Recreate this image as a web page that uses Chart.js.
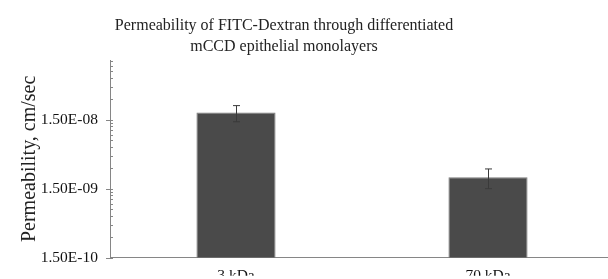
<!DOCTYPE html>
<html>
<head>
<meta charset="utf-8">
<script src="https://cdn.jsdelivr.net/npm/chart.js@4/dist/chart.umd.min.js"></script>
<style>
  html, body { margin: 0; padding: 0; background: #fff; overflow: hidden; }
  #wrap { position: relative; width: 614px; height: 279px; }
</style>
</head>
<body>
<div id="wrap"><canvas id="permChart" width="614" height="279"></canvas></div>
<script>
// datos
const categories = ['3 kDa', '70 kDa'];
const permeability = [1.9e-8, 2.2e-9];
const permeabilityErr = [0.5e-8, 0.7e-9];
const yTickValues = [1.5e-10, 1.5e-9, 1.5e-8];
const yTickLabels = ['1.50E-10', '1.50E-09', '1.50E-08'];
const titleLines = ['Permeability of FITC-Dextran through differentiated', 'mCCD epithelial monolayers'];

const SERIF = '"Liberation Serif", "Times New Roman", serif';
const AXIS_COLOR = '#868686';

// título en dos líneas
const titlePlugin = {
    id: 'titleLines',
    afterDraw(chart) {
        const ctx = chart.ctx;
        ctx.save();
        ctx.fillStyle = '#222';
        ctx.font = '16px ' + SERIF;
        ctx.textAlign = 'center';
        ctx.textBaseline = 'middle';
        titleLines.forEach(function (line, i) {
            ctx.fillText(line, 284, 26 + i * 21);
        });
        ctx.restore();
    }
};

// marcas mayores y menores del eje logarítmico
const logTicksPlugin = {
    id: 'logTicks',
    afterDraw(chart) {
        const y = chart.scales.y;
        const x0 = chart.chartArea.left;
        const ctx = chart.ctx;
        ctx.save();
        ctx.strokeStyle = AXIS_COLOR;
        ctx.lineWidth = 1;
        yTickValues.concat([yTickValues[yTickValues.length - 1] * 10]).forEach(function (base) {
            for (let k = 1; k <= 9; k++) {
                const v = base * k;
                if (v < y.min || v > y.max) continue;
                const py = Math.round(y.getPixelForValue(v)) + 0.5;
                ctx.beginPath();
                ctx.moveTo(k === 1 ? x0 - 4 : x0, py);
                ctx.lineTo(x0 + 3, py);
                ctx.stroke();
            }
        });
        ctx.restore();
    }
};

// barras de error
const errorBarsPlugin = {
    id: 'errorBars',
    afterDatasetsDraw(chart) {
        const meta = chart.getDatasetMeta(0);
        const y = chart.scales.y;
        const ctx = chart.ctx;
        ctx.save();
        ctx.strokeStyle = '#3a3a3a';
        ctx.lineWidth = 1;
        meta.data.forEach(function (bar, i) {
            const cx = Math.round(bar.x) + 0.5;
            const top = y.getPixelForValue(permeability[i] + permeabilityErr[i]);
            const bot = y.getPixelForValue(permeability[i] - permeabilityErr[i]);
            ctx.beginPath();
            ctx.moveTo(cx, top); ctx.lineTo(cx, bot);
            ctx.moveTo(cx - 3.5, top); ctx.lineTo(cx + 3.5, top);
            ctx.moveTo(cx - 3.5, bot); ctx.lineTo(cx + 3.5, bot);
            ctx.stroke();
        });
        ctx.restore();
    }
};

new Chart(document.getElementById('permChart'), {
    type: 'bar',
    data: {
        labels: categories,
        datasets: [{
            data: permeability,
            backgroundColor: '#4a4a4a',
            borderColor: '#7a7a7a',
            borderWidth: 1,
            barPercentage: 0.314,
            categoryPercentage: 1
        }]
    },
    options: {
        responsive: false,
        animation: false,
        layout: { padding: { top: 60, left: 0, right: 0, bottom: 0 } },
        plugins: {
            legend: { display: false },
            tooltip: { enabled: false }
        },
        scales: {
            x: {
                grid: { display: false, drawTicks: false },
                border: { color: AXIS_COLOR, width: 1 },
                ticks: { color: '#111', padding: 9, font: { family: SERIF, size: 15.5 } },
                afterFit(scale) { scale.height = 18; }
            },
            y: {
                type: 'logarithmic',
                min: 1.5e-10,
                max: 1.1e-7,
                grid: { display: false, drawTicks: false },
                border: { color: AXIS_COLOR, width: 1 },
                afterBuildTicks(scale) {
                    scale.ticks = yTickValues.map(function (v) { return { value: v }; });
                },
                ticks: {
                    color: '#111',
                    padding: 12,
                    font: { family: SERIF, size: 15.5 },
                    callback: function (value) {
                        const idx = yTickValues.indexOf(value);
                        return idx >= 0 ? yTickLabels[idx] : '';
                    }
                },
                title: {
                    display: true,
                    text: 'Permeability, cm/sec',
                    color: '#222',
                    padding: { top: 18, bottom: 0 },
                    font: { family: SERIF, size: 20 }
                },
                afterFit(scale) { scale.width = 110; }
            }
        }
    },
    plugins: [titlePlugin, logTicksPlugin, errorBarsPlugin]
});
</script>
</body>
</html>
